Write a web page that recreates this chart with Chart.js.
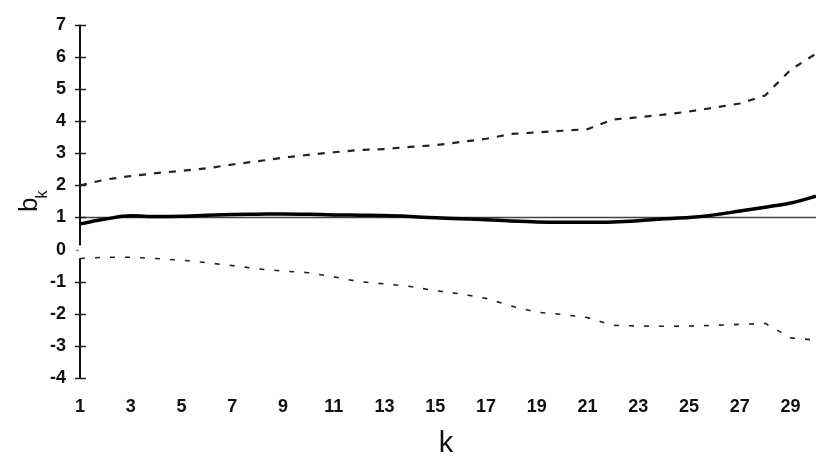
<!DOCTYPE html>
<html>
<head>
<meta charset="utf-8">
<script src="https://cdn.jsdelivr.net/npm/chart.js@4/dist/chart.umd.min.js"></script>
<style>
  html, body { margin: 0; padding: 0; background: #ffffff; }
  #wrap { width: 821px; height: 459px; }
</style>
</head>
<body>
<div id="wrap"><canvas id="c" width="821" height="459"></canvas></div>
<script>
// Lag index k
const kValues = [1, 2, 3, 4, 5, 6, 7, 8, 9, 10, 11, 12, 13, 14, 15,
                 16, 17, 18, 19, 20, 21, 22, 23, 24, 25, 26, 27, 28, 29, 30];

// Estimated coefficient b_k
const bk = [0.80, 0.95, 1.05, 1.03, 1.04, 1.07, 1.09, 1.10, 1.11, 1.10,
            1.08, 1.07, 1.06, 1.03, 0.99, 0.96, 0.93, 0.89, 0.86, 0.85,
            0.85, 0.86, 0.90, 0.96, 1.00, 1.08, 1.20, 1.32, 1.45, 1.66];

// Upper confidence limit
const upperBound = [2.00, 2.18, 2.29, 2.38, 2.45, 2.53, 2.65, 2.75, 2.86, 2.95,
                    3.03, 3.10, 3.13, 3.20, 3.25, 3.35, 3.45, 3.60, 3.65, 3.70,
                    3.75, 4.05, 4.12, 4.20, 4.30, 4.42, 4.55, 4.80, 5.60, 6.10];

// Lower confidence limit
const lowerBound = [-0.28, -0.24, -0.24, -0.28, -0.33, -0.41, -0.50, -0.60, -0.67, -0.72,
                    -0.85, -1.00, -1.07, -1.15, -1.28, -1.38, -1.52, -1.76, -1.95, -2.02,
                    -2.12, -2.36, -2.38, -2.39, -2.38, -2.36, -2.33, -2.30, -2.75, -2.82];

// Reference level b_k = 1
const referenceLevel = 1;

// Axis tick labels
const xTickLabels = ['1', '3', '5', '7', '9', '11', '13', '15', '17', '19', '21', '23', '25', '27', '29'];
const yTickLabels = ['-4', '-3', '-2', '-1', '0', '1', '2', '3', '4', '5', '6', '7'];

const toPoints = (vals) => kValues.map((k, i) => ({ x: k, y: vals[i] }));
const kFirst = kValues[0];
const kLast = kValues[kValues.length - 1];
const tickFont = { family: '"Liberation Sans", Arial, sans-serif', size: 18, weight: 'bold' };

// Draws the vertical axis (with its gap near zero), cross ticks, and axis titles
const axisDecor = {
  id: 'axisDecor',
  afterDraw(chart) {
    const ctx = chart.ctx;
    const y = chart.scales.y;
    const area = chart.chartArea;
    const ax = area.left;
    ctx.save();
    ctx.strokeStyle = '#111';
    ctx.lineWidth = 2;
    ctx.beginPath();
    ctx.moveTo(ax, area.top);
    ctx.lineTo(ax, y.getPixelForValue(0.13));
    ctx.moveTo(ax, y.getPixelForValue(-0.27));
    ctx.lineTo(ax, area.bottom);
    ctx.stroke();

    ctx.lineWidth = 1.5;
    yTickLabels.forEach((t) => {
      const v = Number(t);
      const py = Math.round(y.getPixelForValue(v)) + 0.5;
      ctx.beginPath();
      if (v === 0) {
        ctx.strokeStyle = '#888';
        ctx.moveTo(ax - 4, py);
        ctx.lineTo(ax - 1, py);
      } else {
        ctx.strokeStyle = '#222';
        ctx.moveTo(ax - 5, py);
        ctx.lineTo(ax + 6, py);
      }
      ctx.stroke();
    });

    // y-axis title: b with subscript k, rotated
    ctx.fillStyle = '#111';
    ctx.translate(37, 212);
    ctx.rotate(-Math.PI / 2);
    ctx.textAlign = 'left';
    ctx.textBaseline = 'alphabetic';
    ctx.font = '26px "Liberation Sans", Arial, sans-serif';
    ctx.fillText('b', 0, 0);
    const bw = ctx.measureText('b').width;
    ctx.font = '16px "Liberation Sans", Arial, sans-serif';
    ctx.fillText('k', bw - 1, 10);
    ctx.restore();

    // x-axis title
    ctx.save();
    ctx.fillStyle = '#111';
    ctx.font = '29px "Liberation Sans", Arial, sans-serif';
    ctx.textAlign = 'center';
    ctx.textBaseline = 'alphabetic';
    ctx.fillText('k', (area.left + area.right) / 2 - 2, 452);
    ctx.restore();
  }
};

new Chart(document.getElementById('c'), {
  type: 'line',
  data: {
    datasets: [
      {
        label: 'b_k',
        data: toPoints(bk),
        borderColor: '#000',
        borderWidth: 3.5,
        pointRadius: 0,
        cubicInterpolationMode: 'monotone',
        fill: false
      },
      {
        label: 'reference',
        data: [{ x: kFirst, y: referenceLevel }, { x: kLast, y: referenceLevel }],
        borderColor: '#444',
        borderWidth: 1.5,
        pointRadius: 0,
        fill: false
      },
      {
        label: 'upper',
        data: toPoints(upperBound),
        borderColor: '#222',
        borderWidth: 2.2,
        borderDash: [7, 8],
        pointRadius: 0,
        tension: 0,
        fill: false
      },
      {
        label: 'lower',
        data: toPoints(lowerBound),
        borderColor: '#222',
        borderWidth: 1.6,
        borderDash: [5, 10],
        pointRadius: 0,
        tension: 0,
        fill: false
      }
    ]
  },
  options: {
    responsive: false,
    devicePixelRatio: 1,
    animation: false,
    layout: { padding: { top: 15, right: 5, left: 0, bottom: 0 } },
    plugins: {
      legend: { display: false },
      tooltip: { enabled: false }
    },
    scales: {
      x: {
        type: 'linear',
        min: kFirst,
        max: kLast,
        grid: { display: false, drawTicks: false },
        border: { display: false },
        afterBuildTicks: (s) => { s.ticks = xTickLabels.map((t) => ({ value: Number(t) })); },
        afterFit: (s) => { s.height = 81; },
        ticks: {
          autoSkip: false,
          maxRotation: 0,
          padding: 18,
          color: '#111',
          font: tickFont,
          callback: (v) => xTickLabels.includes(String(v)) ? String(v) : ''
        }
      },
      y: {
        min: Number(yTickLabels[0]),
        max: Number(yTickLabels[yTickLabels.length - 1]),
        grid: { display: false, drawTicks: false },
        border: { display: false },
        afterFit: (s) => { s.width = 80; },
        ticks: {
          stepSize: 1,
          padding: 14,
          color: '#111',
          font: tickFont,
          callback: (v) => yTickLabels.includes(String(v)) ? String(v) : ''
        }
      }
    }
  },
  plugins: [axisDecor]
});
</script>
</body>
</html>
